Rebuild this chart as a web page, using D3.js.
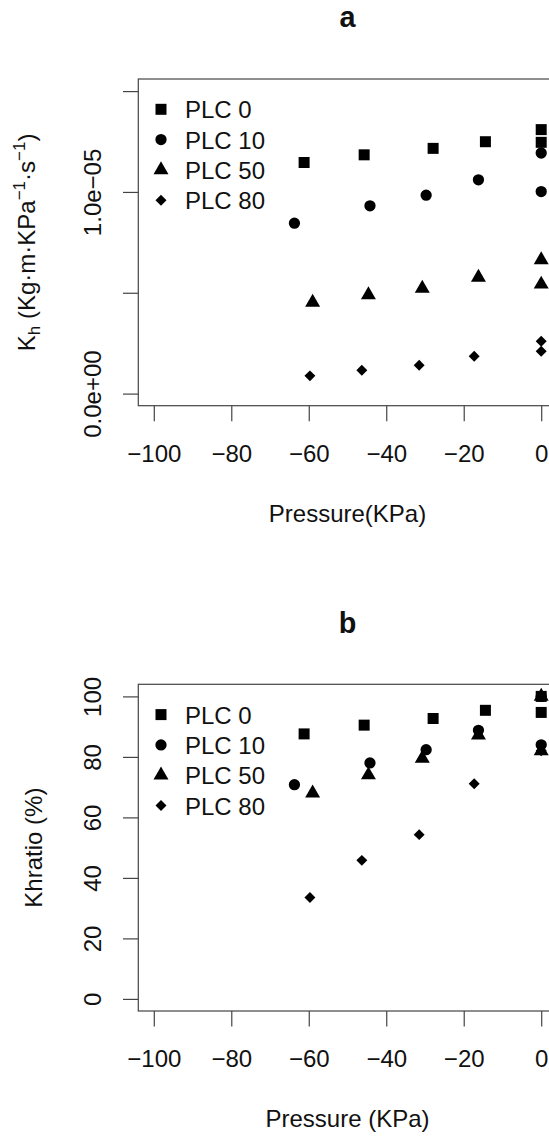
<!DOCTYPE html>
<html>
<head>
<meta charset="utf-8">
<script src="https://cdn.jsdelivr.net/npm/d3@7"></script>
<style>
  body { margin: 0; background: #fff; }
  svg { display: block; font-family: "Liberation Sans", Arial, Helvetica, sans-serif; }
</style>
</head>
<body>
<div id="chart"></div>
<script>
// series names and their plotting symbols
var seriesNames = ["PLC 0", "PLC 10", "PLC 50", "PLC 80"];
var seriesShapes = ["square", "circle", "triangle", "diamond"];

// pressure (KPa) of each measurement, per series
var pressurePLC0  = [-61.2, -45.7, -27.9, -14.4, 0, 0];
var pressurePLC10 = [-63.7, -44.2, -29.7, -16.2, 0, 0];
var pressurePLC50 = [-59.0, -44.6, -30.7, -16.2, 0, 0];
var pressurePLC80 = [-59.7, -46.3, -31.5, -17.3, 0, 0];

// panel a: Kh (Kg m KPa^-1 s^-1)
var khPLC0  = [1.146e-5, 1.184e-5, 1.216e-5, 1.249e-5, 1.309e-5, 1.246e-5];
var khPLC10 = [0.845e-5, 0.931e-5, 0.984e-5, 1.060e-5, 1.193e-5, 1.002e-5];
var khPLC50 = [0.452e-5, 0.489e-5, 0.522e-5, 0.576e-5, 0.663e-5, 0.542e-5];
var khPLC80 = [0.088e-5, 0.116e-5, 0.141e-5, 0.185e-5, 0.260e-5, 0.210e-5];

// panel b: Khratio (%)
var ratioPLC0  = [87.6, 90.5, 92.7, 95.4, 100, 94.7];
var ratioPLC10 = [70.8, 78.0, 82.4, 88.8, 100, 84.0];
var ratioPLC50 = [68.0, 74.0, 79.5, 87.2, 100, 82.0];
var ratioPLC80 = [33.5, 45.8, 54.3, 71.1, 100, 82.0];

// axis ticks (panel a only labels 0 and 1e-05, like R drops overlapping ones)
var xTicks = [-100, -80, -60, -40, -20, 0];
var yTicksA = [0, 5e-6, 1e-5, 1.5e-5];
var yLabelledA = [0, 1e-5];
var yTicksB = [0, 20, 40, 60, 80, 100];

var pressures = [pressurePLC0, pressurePLC10, pressurePLC50, pressurePLC80];
var khs = [khPLC0, khPLC10, khPLC50, khPLC80];
var ratios = [ratioPLC0, ratioPLC10, ratioPLC50, ratioPLC80];

function rows(yArrays){
  var out = [];
  seriesNames.forEach(function(name, i){
    pressures[i].forEach(function(p, j){
      out.push({series: i, x: p, y: yArrays[i][j]});
    });
  });
  return out;
}

// R style 4% axis expansion
function expand(lo, hi){ var d = (hi - lo) * 0.04; return [lo - d, hi + d]; }

// R style scientific label, e.g. 1.0e-05
function sciLabel(v){
  var s = d3.format('.1e')(v);           // "1.0e-5"
  var parts = s.split('e');
  var ex = +parts[1];
  var sign = ex < 0 ? '\u2212' : '+';
  return parts[0].replace('-', '\u2212') + 'e' + sign + d3.format('02d')(Math.abs(ex));
}

var W = 549, H = 1136;
var m = {t: 79, l: 138.3}, w = 418.4, h = 326.7, gap = 605.3;
var ink = "#111", lineCol = "#444";

var symbols = {
  square:   d3.symbol().type(d3.symbolSquare).size(121),
  circle:   d3.symbol().type(d3.symbolCircle).size(100),
  triangle: d3.symbol().type(d3.symbolTriangle).size(97),
  diamond:  d3.symbol().type(d3.symbolSquare).size(60)
};
function symTransform(shape, x, y){
  return 'translate(' + x + ',' + y + ')' + (shape === 'diamond' ? ' rotate(45)' : '');
}

var svg = d3.select('#chart').append('svg')
    .attr('width', W).attr('height', H)
    .style('overflow', 'hidden');

function drawPanel(cfg){
  var g = svg.append('g').attr('transform', 'translate(' + m.l + ',' + cfg.top + ')');

  var x = d3.scaleLinear().domain(expand(-100, 0)).range([0, w]);
  var y = d3.scaleLinear().domain(expand(cfg.yMin, cfg.yMax)).range([h, 0]);

  // title
  g.append('text')
      .attr('x', w / 2).attr('y', -51.7)
      .attr('text-anchor', 'middle')
      .style('font-size', '28.8px').style('font-weight', 'bold')
      .attr('fill', ink)
      .text(cfg.title);

  // x axis
  var xAxis = g.append('g').attr('transform', 'translate(0,' + h + ')')
      .call(d3.axisBottom(x).tickValues(xTicks).tickSize(15.5).tickSizeOuter(0).tickFormat(d3.format('d')));
  xAxis.select('.domain').remove();
  xAxis.selectAll('line').attr('stroke', lineCol).attr('stroke-width', 1.2);
  xAxis.selectAll('text').attr('y', 56).attr('dy', null)
      .attr('fill', ink).style('font-size', '24px').attr('font-family', null);

  // y axis
  var yAxis = g.append('g')
      .call(d3.axisLeft(y).tickValues(cfg.yTicks).tickSize(15.3).tickSizeOuter(0).tickFormat(cfg.yFormat));
  yAxis.select('.domain').remove();
  yAxis.selectAll('line').attr('stroke', lineCol).attr('stroke-width', 1.2);
  yAxis.selectAll('text')
      .attr('x', null).attr('dy', null)
      .attr('transform', 'translate(-37.5,0) rotate(-90)')
      .attr('text-anchor', 'middle')
      .attr('fill', ink).style('font-size', '24px').attr('font-family', null);

  // plot box
  g.append('rect')
      .attr('width', w).attr('height', h)
      .attr('fill', 'none').attr('stroke', lineCol).attr('stroke-width', 1.2);

  // axis titles
  g.append('text')
      .attr('x', w / 2).attr('y', h + 116.5)
      .attr('text-anchor', 'middle')
      .attr('fill', ink).style('font-size', '24px')
      .text(cfg.xTitle);

  var yt = g.append('text')
      .attr('transform', 'translate(' + (cfg.yTitleX - m.l) + ',' + (h / 2) + ') rotate(-90)')
      .attr('text-anchor', 'middle')
      .attr('fill', ink).style('font-size', '24px');
  cfg.yTitle(yt);

  // points
  g.selectAll('.pt')
      .data(cfg.data)
      .enter().append('path')
      .attr('class', 'pt')
      .attr('d', function(d){ return symbols[seriesShapes[d.series]](); })
      .attr('transform', function(d){ return symTransform(seriesShapes[d.series], x(d.x), y(d.y)); })
      .attr('fill', '#000');

  // legend
  var leg = g.selectAll('.leg')
      .data(seriesNames)
      .enter().append('g')
      .attr('class', 'leg')
      .attr('transform', function(d, i){ return 'translate(0,' + (30.3 + i * 30.3) + ')'; });
  leg.append('path')
      .attr('d', function(d, i){ return symbols[seriesShapes[i]](); })
      .attr('transform', function(d, i){ return symTransform(seriesShapes[i], 22.7, 0); })
      .attr('fill', '#000');
  leg.append('text')
      .attr('x', 46.7).attr('y', 9)
      .attr('fill', ink).style('font-size', '24px')
      .text(String);
}

drawPanel({
  top: m.t,
  title: 'a',
  yMin: 0, yMax: 1.5e-5,
  yTicks: yTicksA,
  yFormat: function(v){
    var shown = yLabelledA.some(function(t){ return Math.abs(t - v) < 1e-12; });
    return shown ? sciLabel(v) : '';
  },
  xTitle: 'Pressure(KPa)',
  yTitleX: 35,
  yTitle: function(t){
    t.append('tspan').text('K');
    t.append('tspan').attr('dy', 5).style('font-size', '17px').text('h');
    t.append('tspan').attr('dy', -5).text(' (Kg\u00b7m\u00b7KPa');
    t.append('tspan').attr('dy', -10).style('font-size', '17px').text('\u22121');
    t.append('tspan').attr('dy', 10).text('\u00b7s');
    t.append('tspan').attr('dy', -10).style('font-size', '17px').text('\u22121');
    t.append('tspan').attr('dy', 10).text(')');
  },
  data: rows(khs)
});

drawPanel({
  top: m.t + gap,
  title: 'b',
  yMin: 0, yMax: 100,
  yTicks: yTicksB,
  yFormat: d3.format('d'),
  xTitle: 'Pressure (KPa)',
  yTitleX: 41.5,
  yTitle: function(t){ t.text('Khratio (%)'); },
  data: rows(ratios)
});
</script>
</body>
</html>
